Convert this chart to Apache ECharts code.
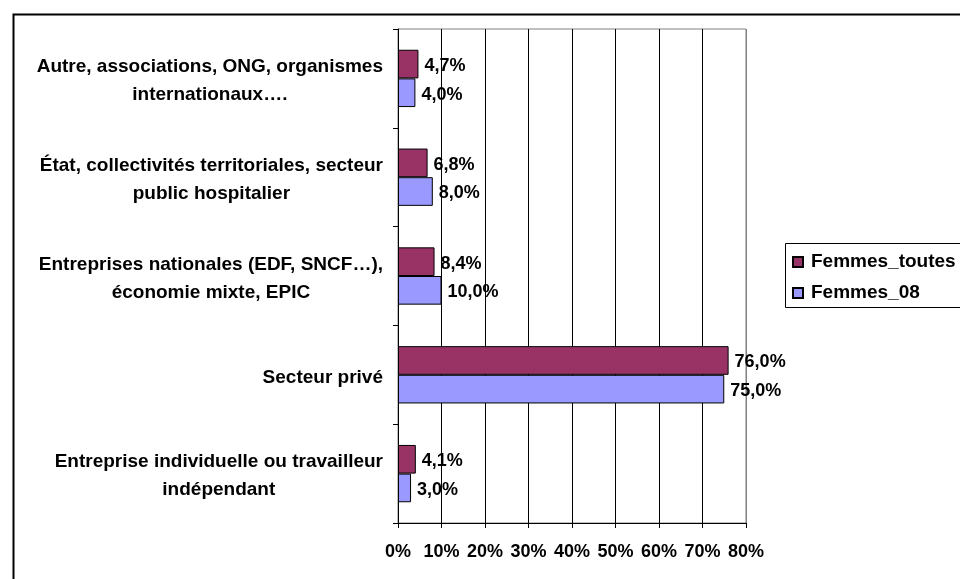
<!DOCTYPE html>
<html>
<head>
<meta charset="utf-8">
<script src="https://cdn.jsdelivr.net/npm/echarts@6/dist/echarts.min.js"></script>
<style>
html,body{margin:0;padding:0;background:#fff;}
#c{width:960px;height:579px;}
</style>
</head>
<body>
<div id="c"></div>
<script>
// categories listed bottom to top
const categories = [
  "Entreprise individuelle ou travailleur\nindépendant",
  "Secteur privé",
  "Entreprises nationales (EDF, SNCF…),\néconomie mixte, EPIC",
  "État, collectivités territoriales, secteur\npublic hospitalier",
  "Autre, associations, ONG, organismes\ninternationaux…."
];
const femmesToutes = [4.1, 76.0, 8.4, 6.8, 4.7];
const femmes08 = [3.0, 75.0, 10.0, 8.0, 4.0];
const seriesNames = ["Femmes_toutes", "Femmes_08"];
const xTicks = [0, 10, 20, 30, 40, 50, 60, 70, 80];

const FONT = "'Liberation Sans', Arial, sans-serif";
const fmtVal = v => v.toFixed(1).replace('.', ',') + '%';

const chart = echarts.init(document.getElementById('c'));
const labelCfg = {
  show: true, position: 'right', distance: 6, offset: [0, 2],
  color: '#000', fontFamily: FONT, fontWeight: 'bold', fontSize: 18,
  formatter: p => fmtVal(p.value)
};
chart.setOption({
  animation: false,
  backgroundColor: '#fff',
  grid: {
    left: 398, right: 214, top: 29, bottom: 56,
    containLabel: false, outerBoundsMode: 'none',
    show: true, borderColor: '#808080', borderWidth: 1, backgroundColor: 'transparent'
  },
  legend: {
    orient: 'vertical', left: 792, top: 252, padding: 0,
    itemWidth: 10, itemHeight: 10, itemGap: 11, icon: 'rect',
    data: seriesNames,
    textStyle: {color: '#000', fontFamily: FONT, fontWeight: 'bold', fontSize: 19, lineHeight: 20, padding: [0, 0, 0, 3]}
  },
  xAxis: {
    type: 'value', min: xTicks[0], max: xTicks[xTicks.length - 1], interval: 10,
    axisLine: {show: true, lineStyle: {color: '#000', width: 1}},
    axisTick: {show: true, length: 5, lineStyle: {color: '#000'}},
    axisLabel: {color: '#000', fontFamily: FONT, fontWeight: 'bold', fontSize: 18, margin: 20, formatter: v => v + '%'},
    splitLine: {show: true, lineStyle: {color: ['#000','#000','#000','#000','#000','#000','#000','#000','#808080'], width: 1}}
  },
  yAxis: {
    type: 'category', data: categories,
    axisLine: {show: true, lineStyle: {color: '#000', width: 1}},
    axisTick: {show: true, length: 5, lineStyle: {color: '#000'}},
    axisLabel: {
      interval: 0, align: 'right', margin: 15, padding: [5, 0, 0, 0],
      formatter: v => v.split('\n').map(l => '{c|' + l + '}').join('\n'),
      rich: {c: {align: 'center', color: '#000', fontFamily: FONT, fontWeight: 'bold', fontSize: 19, lineHeight: 28}}
    },
    splitLine: {show: false}
  },
  series: [
    {name: seriesNames[0], type: 'bar', data: femmesToutes, barCategoryGap: '42%', barGap: '0%',
     itemStyle: {color: '#993366', borderColor: '#000', borderWidth: 1}, label: labelCfg},
    {name: seriesNames[1], type: 'bar', data: femmes08, barCategoryGap: '42%', barGap: '0%',
     itemStyle: {color: '#9999FF', borderColor: '#000', borderWidth: 1}, label: labelCfg}
  ],
  graphic: [
    {type: 'rect', left: 11, top: 12, shape: {x: 0, y: 0, width: 2000, height: 2000},
     style: {fill: 'none', stroke: '#000', lineWidth: 2}, silent: true},
    {type: 'rect', shape: {x: 785.5, y: 243.5, width: 300, height: 64},
     style: {fill: 'none', stroke: '#000', lineWidth: 1}, silent: true}
  ]
});
</script>
</body>
</html>
